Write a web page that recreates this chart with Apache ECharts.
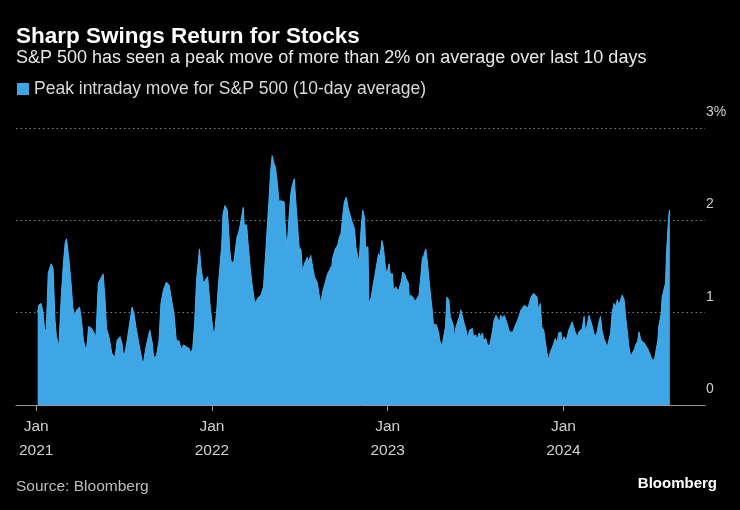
<!DOCTYPE html>
<html>
<head>
<meta charset="utf-8">
<script src="https://cdn.jsdelivr.net/npm/echarts@6/dist/echarts.min.js"></script>
<style>
html,body{margin:0;padding:0;background:#000;}
#chart{width:740px;height:510px;}
</style>
</head>
<body>
<div id="chart"></div>
<script>
const dates = [
'2021-01-04','2021-01-06','2021-01-11','2021-01-15','2021-01-19','2021-01-22','2021-01-26','2021-02-01','2021-02-05','2021-02-09',
'2021-02-12','2021-02-17','2021-02-22','2021-02-26','2021-03-02','2021-03-05','2021-03-10','2021-03-15','2021-03-18','2021-03-22',
'2021-03-26','2021-04-01','2021-04-05','2021-04-09','2021-04-15','2021-04-20','2021-04-26','2021-04-30','2021-05-05','2021-05-10',
'2021-05-14','2021-05-20','2021-05-24','2021-05-27','2021-06-01','2021-06-07','2021-06-11','2021-06-14','2021-06-18','2021-06-24',
'2021-06-28','2021-07-02','2021-07-08','2021-07-12','2021-07-19','2021-07-23','2021-07-27','2021-08-02','2021-08-06','2021-08-11',
'2021-08-16','2021-08-20','2021-08-25','2021-08-30','2021-09-02','2021-09-08','2021-09-13','2021-09-17','2021-09-22','2021-09-28',
'2021-10-04','2021-10-08','2021-10-14','2021-10-19','2021-10-25','2021-10-29','2021-11-03','2021-11-09','2021-11-15','2021-11-18',
'2021-11-22','2021-11-26','2021-11-30','2021-12-06','2021-12-09','2021-12-14','2021-12-17','2021-12-23','2021-12-29',
'2022-01-04','2022-01-07','2022-01-11','2022-01-14','2022-01-21','2022-01-24','2022-01-28','2022-02-02','2022-02-07','2022-02-09',
'2022-02-14','2022-02-16','2022-02-22','2022-02-25','2022-02-28','2022-03-07','2022-03-09','2022-03-14','2022-03-17','2022-03-22',
'2022-03-25','2022-03-31','2022-04-04','2022-04-08','2022-04-13','2022-04-18','2022-04-22','2022-04-27','2022-04-29','2022-05-03',
'2022-05-06','2022-05-10','2022-05-13','2022-05-17','2022-05-20','2022-05-26','2022-05-31','2022-06-02','2022-06-06','2022-06-09',
'2022-06-14','2022-06-17','2022-06-21','2022-06-24','2022-06-28','2022-07-01','2022-07-05','2022-07-08','2022-07-12','2022-07-18',
'2022-07-21','2022-07-25','2022-07-29','2022-08-02','2022-08-08','2022-08-11','2022-08-15','2022-08-19','2022-08-24','2022-08-29',
'2022-09-02','2022-09-07','2022-09-09','2022-09-14','2022-09-19','2022-09-23','2022-09-26','2022-09-30','2022-10-03','2022-10-07',
'2022-10-11','2022-10-14','2022-10-18','2022-10-24','2022-10-27','2022-10-31','2022-11-03','2022-11-07','2022-11-10','2022-11-14',
'2022-11-16','2022-11-21','2022-11-23','2022-11-28','2022-12-01','2022-12-05','2022-12-09','2022-12-13','2022-12-16','2022-12-20',
'2022-12-23','2022-12-27','2022-12-30',
'2023-01-04','2023-01-06','2023-01-11','2023-01-13','2023-01-18','2023-01-23','2023-01-25','2023-01-30','2023-02-01','2023-02-06',
'2023-02-08','2023-02-13','2023-02-15','2023-02-17','2023-02-22','2023-02-27','2023-03-01','2023-03-03','2023-03-07','2023-03-10',
'2023-03-14','2023-03-17','2023-03-21','2023-03-24','2023-03-28','2023-03-31','2023-04-04','2023-04-06','2023-04-10','2023-04-12',
'2023-04-17','2023-04-19','2023-04-24','2023-04-26','2023-05-01','2023-05-04','2023-05-08','2023-05-11','2023-05-15','2023-05-18',
'2023-05-19','2023-05-23','2023-05-30','2023-06-02','2023-06-06','2023-06-09','2023-06-13','2023-06-16','2023-06-20','2023-06-26',
'2023-06-28','2023-07-03','2023-07-05','2023-07-10','2023-07-12','2023-07-17','2023-07-19','2023-07-24','2023-07-26','2023-07-31',
'2023-08-03','2023-08-07','2023-08-10','2023-08-14','2023-08-17','2023-08-21','2023-08-24','2023-08-28','2023-08-31','2023-09-05',
'2023-09-07','2023-09-11','2023-09-14','2023-09-18','2023-09-22','2023-09-28','2023-10-05','2023-10-12','2023-10-19','2023-10-26',
'2023-10-31','2023-11-03','2023-11-07','2023-11-10','2023-11-14','2023-11-17','2023-11-21','2023-11-24','2023-11-28','2023-12-01',
'2023-12-05','2023-12-08','2023-12-12','2023-12-15','2023-12-19','2023-12-22','2023-12-27','2023-12-29',
'2024-01-02','2024-01-05','2024-01-09','2024-01-12','2024-01-16','2024-01-19','2024-01-23','2024-01-26','2024-01-30','2024-02-02',
'2024-02-06','2024-02-09','2024-02-13','2024-02-16','2024-02-20','2024-02-23','2024-02-27','2024-03-01','2024-03-04','2024-03-07',
'2024-03-11','2024-03-14','2024-03-18','2024-03-21','2024-03-25','2024-03-28','2024-04-01','2024-04-04','2024-04-08','2024-04-11',
'2024-04-15','2024-04-18','2024-04-22','2024-04-25','2024-04-29','2024-05-02','2024-05-06','2024-05-09','2024-05-13','2024-05-16',
'2024-05-20','2024-05-23','2024-05-28','2024-05-30','2024-06-03','2024-06-06','2024-06-10','2024-06-13','2024-06-17','2024-06-20',
'2024-06-24','2024-06-27','2024-07-01','2024-07-03','2024-07-08','2024-07-10','2024-07-15','2024-07-17','2024-07-22','2024-07-24',
'2024-07-26','2024-07-31','2024-08-02','2024-08-06','2024-08-08','2024-08-09'
];
const values = [
1.00,1.08,1.10,1.01,0.79,0.83,1.43,1.53,1.48,0.92,
0.74,0.63,1.17,1.50,1.75,1.80,1.57,1.28,1.06,0.96,
1.03,1.06,0.92,0.70,0.58,0.85,0.83,0.81,0.74,1.32,
1.33,1.42,1.14,0.83,0.74,0.56,0.54,0.52,0.70,0.74,
0.67,0.51,0.67,0.81,1.06,0.99,0.85,0.67,0.56,0.43,
0.60,0.70,0.81,0.67,0.51,0.54,0.70,1.10,1.24,1.33,
1.30,1.28,0.99,0.70,0.69,0.60,0.65,0.63,0.61,0.56,
0.61,0.89,1.35,1.69,1.50,1.32,1.33,1.39,1.03,
0.78,0.81,1.03,1.28,1.71,2.07,2.16,2.11,1.68,1.57,
1.53,1.57,1.82,1.86,1.93,2.14,1.95,1.95,1.75,1.46,
1.32,1.10,1.12,1.17,1.19,1.28,1.60,2.03,2.18,2.54,
2.70,2.61,2.57,2.39,2.21,2.21,2.20,1.96,1.68,1.96,
2.30,2.38,2.45,2.21,1.93,1.71,1.68,1.44,1.53,1.60,
1.55,1.62,1.50,1.39,1.32,1.21,1.10,1.23,1.32,1.42,
1.46,1.51,1.60,1.69,1.73,1.82,1.86,2.07,2.20,2.25,
2.13,2.11,2.00,1.91,1.71,1.60,1.57,1.93,2.11,2.03,
1.71,1.71,1.10,1.17,1.28,1.39,1.41,1.64,1.60,1.78,
1.71,1.50,1.42,
1.53,1.42,1.42,1.24,1.28,1.23,1.24,1.35,1.44,1.41,
1.37,1.32,1.14,1.19,1.17,1.12,1.14,1.10,1.19,1.35,
1.59,1.62,1.69,1.57,1.35,1.19,1.00,0.87,0.85,0.87,
0.78,0.70,0.63,0.70,0.85,1.17,1.14,0.96,0.94,0.85,
0.72,0.85,0.96,1.03,1.01,0.88,0.81,0.72,0.81,0.83,
0.74,0.76,0.70,0.78,0.74,0.78,0.70,0.72,0.67,0.63,
0.70,0.81,0.92,0.97,0.96,0.90,0.97,0.94,0.97,0.90,
0.92,0.79,0.78,0.79,0.85,0.92,1.03,1.08,1.05,1.17,
1.21,1.23,1.17,1.03,1.10,0.85,0.81,0.70,0.56,0.49,
0.58,0.61,0.67,0.72,0.67,0.78,0.79,0.67,
0.74,0.70,0.74,0.81,0.83,0.90,0.88,0.78,0.74,0.79,
0.81,0.83,0.96,0.78,0.79,0.97,0.96,0.85,0.78,0.74,
0.79,0.88,0.96,0.81,0.72,0.70,0.63,0.61,0.78,0.99,
1.10,1.06,1.14,1.08,1.06,1.19,1.14,0.96,0.78,0.63,
0.52,0.56,0.61,0.65,0.69,0.79,0.70,0.72,0.67,0.65,
0.61,0.63,0.52,0.49,0.49,0.51,0.70,0.85,0.99,1.17,
1.21,1.32,1.64,2.00,2.11,2.05
];
const tickYears = [2021, 2022, 2023, 2024];
const axisStart = '2020-11-20';
const axisEnd = '2024-10-21';

const FONT = "'Liberation Sans', Arial, sans-serif";
const ts = s => { const p = s.split('-').map(Number); return Date.UTC(p[0], p[1] - 1, p[2]); };
const chart = echarts.init(document.getElementById('chart'), null, {renderer: 'canvas'});
const seriesData = dates.map((d, i) => [ts(d), values[i]]);
const tickValues = tickYears.map(y => Date.UTC(y, 0, 1));

chart.setOption({
  backgroundColor: '#000',
  animation: false,
  title: [
    {text: 'Sharp Swings Return for Stocks', left: 16, top: 25, padding: 0,
     textStyle: {color: '#fff', fontSize: 22.5, fontWeight: 'bold', fontFamily: FONT}},
    {text: 'S&P 500 has seen a peak move of more than 2% on average over last 10 days', left: 16, top: 49, padding: 0,
     textStyle: {color: '#e8e8e8', fontSize: 18, fontWeight: 'normal', fontFamily: FONT}},
    {text: 'Source: Bloomberg', left: 16, top: 479, padding: 0,
     textStyle: {color: '#bdbdbd', fontSize: 15.5, fontWeight: 'normal', fontFamily: FONT}},
    {text: 'Bloomberg', right: 23, top: 476, padding: 0,
     textStyle: {color: '#fff', fontSize: 15, fontWeight: 'bold', fontFamily: FONT}}
  ],
  legend: {
    left: 17, top: 80, padding: 0, icon: 'rect', itemWidth: 12, itemHeight: 12, itemGap: 10,
    textStyle: {color: '#d9d9d9', fontSize: 17.5, fontFamily: FONT},
    data: ['Peak intraday move for S&P 500 (10-day average)']
  },
  grid: {left: 16, right: 35, top: 128, bottom: 105, containLabel: false},
  xAxis: {
    type: 'value',
    min: ts(axisStart),
    max: ts(axisEnd),
    axisLine: {show: true, lineStyle: {color: '#9a9a9a', width: 1}},
    axisTick: {show: true, length: 6, lineStyle: {color: '#9a9a9a'}, customValues: tickValues},
    axisLabel: {
      customValues: tickValues,
      color: '#cfcfcf', fontSize: 15.5, fontFamily: FONT, margin: 10, lineHeight: 24,
      formatter: v => 'Jan\n' + new Date(v).getUTCFullYear()
    },
    splitLine: {show: false}
  },
  yAxis: {
    type: 'value', position: 'right', min: 0, max: 3, interval: 1,
    axisLine: {show: false}, axisTick: {show: false},
    axisLabel: {
      color: '#cfcfcf', fontSize: 14, fontFamily: FONT, margin: 1, align: 'left',
      verticalAlign: 'bottom', lineHeight: 32,
      formatter: v => (v === 3 ? v + '%' : String(v))
    },
    splitLine: {show: true, lineStyle: {color: '#808080', type: [1.5, 3], width: 1}}
  },
  series: [{
    name: 'Peak intraday move for S&P 500 (10-day average)',
    type: 'line',
    data: seriesData,
    showSymbol: false,
    symbol: 'none',
    color: '#3ea6e4',
    lineStyle: {color: '#48b0ef', width: 1},
    areaStyle: {color: '#3ea6e4', opacity: 1}
  }]
});
</script>
</body>
</html>
